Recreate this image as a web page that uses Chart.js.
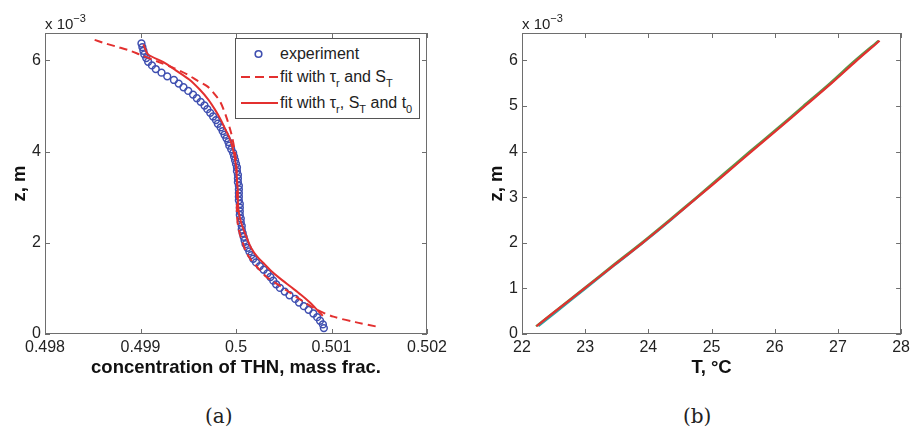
<!DOCTYPE html>
<html>
<head>
<meta charset="utf-8">
<script src="https://cdn.jsdelivr.net/npm/chart.js@4/dist/chart.umd.min.js"></script>
<style>
  html, body { margin: 0; padding: 0; background: #fff; }
  body { width: 914px; height: 431px; position: relative; overflow: hidden; font-family: 'Liberation Sans', Arial, sans-serif; color: #222; }
  canvas { position: absolute; top: 0; }
  #chart-a { left: 0; }
  #chart-b { left: 457px; }
  .exp { position: absolute; font-size: 15px; line-height: 15px; color: #222; }
  .exp sup { font-size: 11px; vertical-align: 7px; line-height: 0; }
  .panel { position: absolute; top: 404px; font-family: 'DejaVu Serif', 'Liberation Serif', serif; font-size: 20px; color: #222; }
  #legend { position: absolute; left: 235px; top: 38px; width: 185px; height: 81px; border: 1px solid #555; background: #fff; font-size: 16px; box-sizing: border-box; }
  #legend .row { position: absolute; left: 0; height: 20px; width: 100%; }
  #legend svg { position: absolute; left: 5px; top: 0; }
  #legend .txt { position: absolute; left: 44px; top: 0; line-height: 20px; white-space: nowrap; }
  #legend sub { font-size: 11px; vertical-align: -5px; line-height: 0; }
</style>
</head>
<body>
<canvas id="chart-a" width="457" height="384"></canvas>
<canvas id="chart-b" width="457" height="384"></canvas>

<div class="exp" style="left:45px; top:16px;">x 10<sup>−3</sup></div>
<div class="exp" style="left:522px; top:16px;">x 10<sup>−3</sup></div>

<div id="legend">
  <div class="row" style="top:5px;">
    <svg width="36" height="20"><circle cx="17.5" cy="10" r="3.3" fill="none" stroke="#3f4fb0" stroke-width="1.6"/></svg>
    <span class="txt">experiment</span>
  </div>
  <div class="row" style="top:28px;">
    <svg width="38" height="20"><line x1="0" y1="10" x2="37" y2="10" stroke="#e3302f" stroke-width="2" stroke-dasharray="9,5"/></svg>
    <span class="txt">fit with τ<sub>r</sub> and S<sub>T</sub></span>
  </div>
  <div class="row" style="top:54px;">
    <svg width="38" height="20"><line x1="0" y1="10" x2="37" y2="10" stroke="#e3302f" stroke-width="2"/></svg>
    <span class="txt">fit with τ<sub>r</sub>, S<sub>T</sub> and t<sub>0</sub></span>
  </div>
</div>

<div class="panel" style="left:205px;">(a)</div>
<div class="panel" style="left:683px;">(b)</div>

<script>
// z values are in units of 10^-3 m (the axis carries the "x 10^-3" factor)

// panel (a): concentration profile
const zExp = [0.13, 0.21, 0.29, 0.37, 0.45, 0.53, 0.61, 0.69, 0.77, 0.85,
  0.93, 1.01, 1.09, 1.17, 1.25, 1.33, 1.41, 1.49, 1.57, 1.65,
  1.73, 1.81, 1.89, 1.97, 2.05, 2.13, 2.21, 2.29, 2.37, 2.45,
  2.53, 2.61, 2.69, 2.77, 2.85, 2.93, 3.01, 3.09, 3.17, 3.25,
  3.33, 3.41, 3.49, 3.57, 3.65, 3.73, 3.81, 3.89, 3.97, 4.05,
  4.13, 4.21, 4.29, 4.37, 4.45, 4.53, 4.61, 4.69, 4.77, 4.85,
  4.93, 5.01, 5.09, 5.17, 5.25, 5.33, 5.41, 5.49, 5.57, 5.65,
  5.73, 5.81, 5.89, 5.97, 6.05, 6.13, 6.21, 6.29, 6.37];
const cExp = [0.50092, 0.50091, 0.50088, 0.50085, 0.50081, 0.50076, 0.50071, 0.50066, 0.50062, 0.50056,
  0.50051, 0.50046, 0.50042, 0.50039, 0.50036, 0.50033, 0.50029, 0.50025, 0.50021, 0.50018,
  0.50016, 0.50014, 0.50012, 0.50010, 0.50009, 0.50008, 0.50007, 0.50006, 0.50006, 0.50005,
  0.50005, 0.50004, 0.50004, 0.50004, 0.50004, 0.50003, 0.50003, 0.50003, 0.50003, 0.50003,
  0.50002, 0.50002, 0.50002, 0.50001, 0.50001, 0.50000, 0.49999, 0.49998, 0.49997, 0.49995,
  0.49993, 0.49992, 0.49990, 0.49988, 0.49986, 0.49984, 0.49981, 0.49979, 0.49976, 0.49973,
  0.49970, 0.49967, 0.49963, 0.49959, 0.49955, 0.49950, 0.49945, 0.49940, 0.49935, 0.49928,
  0.49922, 0.49916, 0.49912, 0.49908, 0.49906, 0.49904, 0.49903, 0.49902, 0.49901];

const zFitA = [6.45, 6.38, 6.30, 6.22, 6.13, 5.98, 5.83, 5.69, 5.55, 5.43,
  5.25, 5.07, 4.75, 4.40, 4.10, 3.80, 3.40, 3.00, 2.66, 2.40,
  2.20, 2.00, 1.78, 1.62, 1.47, 1.25, 1.07, 0.90, 0.72, 0.53,
  0.38, 0.26, 0.16];
const cFitA = [0.49852, 0.49862, 0.49875, 0.49888, 0.49899, 0.49917, 0.49935, 0.49949, 0.49960, 0.49970,
  0.49978, 0.49984, 0.49990, 0.49995, 0.49998, 0.50000, 0.50001, 0.50001, 0.50001, 0.50002,
  0.50004, 0.50007, 0.50011, 0.50016, 0.50022, 0.50032, 0.50045, 0.50057, 0.50070, 0.50085,
  0.50102, 0.50125, 0.50148];

const zFitB = [6.35, 6.25, 6.13, 5.96, 5.78, 5.58, 5.36, 5.14, 4.92, 4.70,
  4.48, 4.26, 3.95, 3.67, 3.40, 3.10, 2.88, 2.66, 2.40, 2.07,
  1.88, 1.70, 1.55, 1.40, 1.22, 1.04, 0.86, 0.68, 0.55, 0.46,
  0.40];
const cFitB = [0.49903, 0.49905, 0.49908, 0.49924, 0.49937, 0.49951, 0.49962, 0.49971, 0.49978, 0.49984,
  0.49989, 0.49994, 0.49998, 0.50000, 0.50001, 0.50002, 0.50002, 0.50003, 0.50006, 0.50012,
  0.50016, 0.50022, 0.50029, 0.50036, 0.50046, 0.50057, 0.50068, 0.50078, 0.50084, 0.50088,
  0.50091];

const cTicks = [0.498, 0.499, 0.5, 0.501, 0.502];
const cTickLabels = ['0.498', '0.499', '0.5', '0.501', '0.502'];
const zTicksA = [0, 2, 4, 6];

// panel (b): temperature profile
const zTemp = [0.17, 0.5, 1.0, 1.5, 2.0, 2.5, 3.0, 3.5, 4.0, 4.5, 5.0, 5.5, 6.0, 6.43];
const tRed = [22.23, 22.53, 22.99, 23.45, 23.91, 24.35, 24.78, 25.21, 25.63, 26.06, 26.48, 26.90, 27.30, 27.66];
const tGreen = [22.22, 22.52, 22.98, 23.43, 23.89, 24.33, 24.76, 25.18, 25.60, 26.03, 26.45, 26.87, 27.27, 27.64];
const tCyan = [22.26, 22.56, 23.01, 23.46, 23.92, 24.36, 24.78, 25.20, 25.62, 26.05, 26.47, 26.89, 27.29, 27.65];

const tTicks = [22, 23, 24, 25, 26, 27, 28];
const zTicksB = [0, 1, 2, 3, 4, 5, 6];

const Z_MAX = 6.6;

const FONT = "'Liberation Sans', Arial, Helvetica, sans-serif";
const AXIS_COLOR = '#6e6e6e';
const TEXT_COLOR = '#222';
const BLUE = '#3f4fb0';
const RED = '#e3302f';
const GREEN = '#5a9a4a';
const CYAN = '#2aa5a5';

const toPoints = (xs, ys) => xs.map((x, i) => ({ x, y: ys[i] }));

// box around the axes with inward tick marks on all four sides
const framePlugin = {
  id: 'matlabFrame',
  afterDatasetsDraw(chart) {
    const { ctx, chartArea: a, scales } = chart;
    const len = 5;
    ctx.save();
    ctx.strokeStyle = AXIS_COLOR;
    ctx.lineWidth = 1;
    ctx.beginPath();
    scales.x.ticks.forEach((t) => {
      const px = Math.round(scales.x.getPixelForValue(t.value)) + 0.5;
      ctx.moveTo(px, a.bottom); ctx.lineTo(px, a.bottom - len);
      ctx.moveTo(px, a.top); ctx.lineTo(px, a.top + len);
    });
    scales.y.ticks.forEach((t) => {
      const py = Math.round(scales.y.getPixelForValue(t.value)) + 0.5;
      ctx.moveTo(a.left, py); ctx.lineTo(a.left + len, py);
      ctx.moveTo(a.right, py); ctx.lineTo(a.right - len, py);
    });
    ctx.stroke();
    ctx.strokeRect(Math.round(a.left) + 0.5, Math.round(a.top) + 0.5,
      Math.round(a.width) - 1, Math.round(a.height) - 1);
    ctx.restore();
  },
};

function axisOptions({ min, max, ticks, labels, title, horizontal, size, tickPad, titlePad }) {
  return {
    type: 'linear',
    min,
    max,
    grid: { display: false, drawTicks: false },
    border: { display: false },
    afterBuildTicks(scale) {
      scale.ticks = ticks.map((v) => ({ value: v }));
    },
    afterFit(scale) {
      if (horizontal) scale.height = size; else scale.width = size;
    },
    ticks: {
      color: TEXT_COLOR,
      font: { family: FONT, size: 16 },
      padding: tickPad,
      autoSkip: false,
      maxRotation: 0,
      callback(value) {
        const i = ticks.indexOf(value);
        return labels && i >= 0 ? labels[i] : String(value);
      },
    },
    title: {
      display: true,
      text: title,
      color: '#111',
      font: { family: FONT, size: 18.5, weight: 'bold' },
      padding: titlePad,
    },
  };
}

function baseOptions(xAxis, yAxis, padRight) {
  return {
    responsive: false,
    animation: false,
    events: [],
    layout: { padding: { top: 33, right: padRight, bottom: 0, left: 0 } },
    plugins: { legend: { display: false }, tooltip: { enabled: false } },
    scales: { x: xAxis, y: yAxis },
  };
}

new Chart(document.getElementById('chart-a'), {
  type: 'scatter',
  data: {
    datasets: [
      {
        label: 'fit with τr, ST and t0',
        data: toPoints(cFitB, zFitB),
        showLine: true,
        borderColor: RED,
        borderWidth: 2,
        pointRadius: 0,
        tension: 0.3,
      },
      {
        label: 'fit with τr and ST',
        data: toPoints(cFitA, zFitA),
        showLine: true,
        borderColor: RED,
        borderWidth: 2,
        borderDash: [8, 5],
        pointRadius: 0,
        tension: 0.3,
      },
      {
        label: 'experiment',
        data: toPoints(cExp, zExp),
        showLine: false,
        pointStyle: 'circle',
        pointRadius: 3.4,
        borderWidth: 1.5,
        borderColor: BLUE,
        backgroundColor: 'rgba(0,0,0,0)',
      },
    ],
  },
  options: baseOptions(
    axisOptions({ min: 0.498, max: 0.502, ticks: cTicks, labels: cTickLabels,
      title: 'concentration of THN, mass frac.', horizontal: true, size: 50,
      tickPad: 4, titlePad: { top: 0, bottom: 5 } }),
    axisOptions({ min: 0, max: Z_MAX, ticks: zTicksA, labels: null,
      title: 'z, m', horizontal: false, size: 45,
      tickPad: 4, titlePad: { top: 9, bottom: 0 } }),
    30
  ),
  plugins: [framePlugin],
});

new Chart(document.getElementById('chart-b'), {
  type: 'scatter',
  data: {
    datasets: [
      { label: 'red', data: toPoints(tRed, zTemp), showLine: true, borderColor: RED, borderWidth: 2.2, pointRadius: 0, tension: 0.3 },
      { label: 'green', data: toPoints(tGreen, zTemp), showLine: true, borderColor: GREEN, borderWidth: 2, pointRadius: 0, tension: 0.3 },
      { label: 'cyan', data: toPoints(tCyan, zTemp), showLine: true, borderColor: CYAN, borderWidth: 2, pointRadius: 0, tension: 0.3 },
    ],
  },
  options: baseOptions(
    axisOptions({ min: 22, max: 28, ticks: tTicks, labels: null,
      title: 'T, °C', horizontal: true, size: 50,
      tickPad: 4, titlePad: { top: 0, bottom: 5 } }),
    axisOptions({ min: 0, max: Z_MAX, ticks: zTicksB, labels: null,
      title: 'z, m', horizontal: false, size: 65,
      tickPad: 4, titlePad: { top: 29, bottom: 0 } }),
    9
  ),
  plugins: [framePlugin],
});
</script>
</body>
</html>
